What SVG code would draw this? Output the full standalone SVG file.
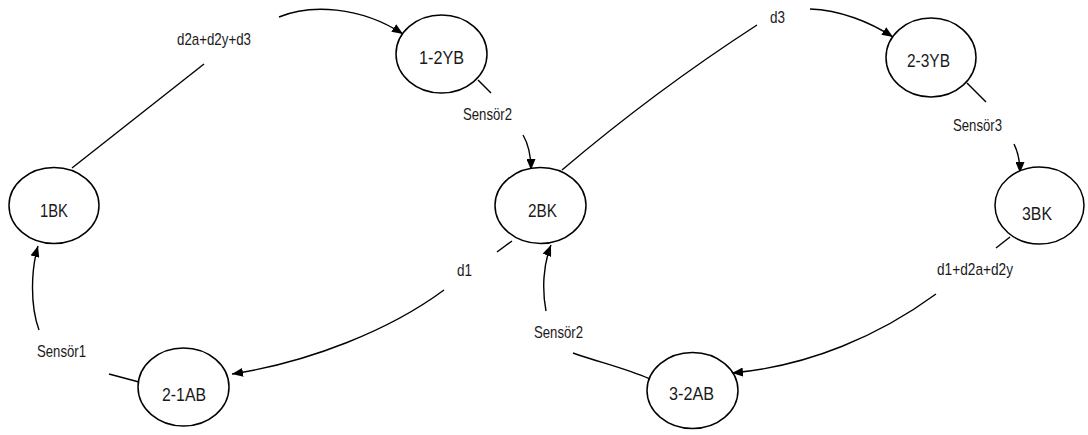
<svg xmlns="http://www.w3.org/2000/svg" width="1088" height="435" viewBox="0 0 1088 435">
  <style>
    .node ellipse { fill: #ffffff; stroke: #000000; stroke-width: 1.5; }
    .node text { font-family: "Liberation Sans", Arial, sans-serif; font-size: 17.5px; fill: #1a1a1a; text-anchor: middle; }
    .lbl { font-family: "Liberation Sans", Arial, sans-serif; font-size: 17px; fill: #1a1a1a; text-anchor: middle; }
    .edge { fill: none; stroke: #000000; stroke-width: 1.4; }
  </style>
  <defs>
    <marker id="arrow" markerUnits="userSpaceOnUse" markerWidth="11" markerHeight="9" refX="11" refY="4.5" orient="auto">
      <path d="M0,0 L11,4.5 L0,9 Z" fill="#000000"/>
    </marker>
  </defs>

  <rect width="1088" height="435" fill="#ffffff"/>

  <!-- transitions, each broken around its label -->
  <g id="connectors">
    <!-- 1BK -> 1-2YB -->
    <path class="edge" d="M72,168 L204,64"/>
    <path class="edge" d="M279,17 C310,4 360,6 403,34" marker-end="url(#arrow)"/>
    <!-- 1-2YB -> 2BK -->
    <path class="edge" d="M478,80 L491,93"/>
    <path class="edge" d="M523,135 C529,145 531,158 531,170" marker-end="url(#arrow)"/>
    <!-- 2BK -> 2-3YB -->
    <path class="edge" d="M562,170 Q655,91 757,25"/>
    <path class="edge" d="M810,9 C840,10 870,22 893,37" marker-end="url(#arrow)"/>
    <!-- 2-3YB -> 3BK -->
    <path class="edge" d="M967,83 L986,102"/>
    <path class="edge" d="M1014,144 C1018,152 1020,162 1020,173" marker-end="url(#arrow)"/>
    <!-- 3BK -> 3-2AB -->
    <path class="edge" d="M1010,237 L996,248"/>
    <path class="edge" d="M936,294 C880,335 810,366 732,373" marker-end="url(#arrow)"/>
    <!-- 3-2AB -> 2BK -->
    <path class="edge" d="M650,379 C625,368 598,362 573,353"/>
    <path class="edge" d="M546,311 C542,290 543,265 551,245" marker-end="url(#arrow)"/>
    <!-- 2BK -> 2-1AB -->
    <path class="edge" d="M512,241 L497,252"/>
    <path class="edge" d="M444,290 C390,330 310,362 232,374" marker-end="url(#arrow)"/>
    <!-- 2-1AB -> 1BK -->
    <path class="edge" d="M139,382 L109,374"/>
    <path class="edge" d="M39,330 C30,305 31,270 38,246" marker-end="url(#arrow)"/>
  </g>

  <!-- transition labels -->
  <g id="labels">
    <text class="lbl" x="214" y="45" textLength="74" lengthAdjust="spacingAndGlyphs">d2a+d2y+d3</text>
    <text class="lbl" x="487.5" y="120" textLength="49" lengthAdjust="spacingAndGlyphs">Sensör2</text>
    <text class="lbl" x="777.5" y="23" textLength="15" lengthAdjust="spacingAndGlyphs">d3</text>
    <text class="lbl" x="977.5" y="131" textLength="49" lengthAdjust="spacingAndGlyphs">Sensör3</text>
    <text class="lbl" x="975" y="275" textLength="76" lengthAdjust="spacingAndGlyphs">d1+d2a+d2y</text>
    <text class="lbl" x="558.5" y="338" textLength="49" lengthAdjust="spacingAndGlyphs">Sensör2</text>
    <text class="lbl" x="464.5" y="276" textLength="15" lengthAdjust="spacingAndGlyphs">d1</text>
    <text class="lbl" x="61.5" y="357" textLength="49" lengthAdjust="spacingAndGlyphs">Sensör1</text>
  </g>

  <!-- states -->
  <g id="n-1BK" class="node">
    <ellipse cx="54" cy="205.5" rx="45" ry="38"/>
    <text x="54" y="217" textLength="28" lengthAdjust="spacingAndGlyphs">1BK</text>
  </g>
  <g id="n-1-2YB" class="node">
    <ellipse cx="441.5" cy="54" rx="45.5" ry="39"/>
    <text x="441.5" y="64" textLength="45" lengthAdjust="spacingAndGlyphs">1-2YB</text>
  </g>
  <g id="n-2BK" class="node">
    <ellipse cx="540.5" cy="205.5" rx="45.5" ry="38"/>
    <text x="542.5" y="217" textLength="29" lengthAdjust="spacingAndGlyphs">2BK</text>
  </g>
  <g id="n-2-3YB" class="node">
    <ellipse cx="931" cy="57.5" rx="45" ry="39.5"/>
    <text x="928.5" y="67" textLength="43" lengthAdjust="spacingAndGlyphs">2-3YB</text>
  </g>
  <g id="n-3BK" class="node">
    <ellipse cx="1039.5" cy="205.5" rx="44.5" ry="38.5"/>
    <text x="1037" y="220" textLength="30" lengthAdjust="spacingAndGlyphs">3BK</text>
  </g>
  <g id="n-2-1AB" class="node">
    <ellipse cx="183.5" cy="387" rx="45.5" ry="39"/>
    <text x="184" y="401" textLength="44" lengthAdjust="spacingAndGlyphs">2-1AB</text>
  </g>
  <g id="n-3-2AB" class="node">
    <ellipse cx="692.5" cy="390.5" rx="45.5" ry="38"/>
    <text x="691.5" y="400" textLength="45" lengthAdjust="spacingAndGlyphs">3-2AB</text>
  </g>
</svg>
